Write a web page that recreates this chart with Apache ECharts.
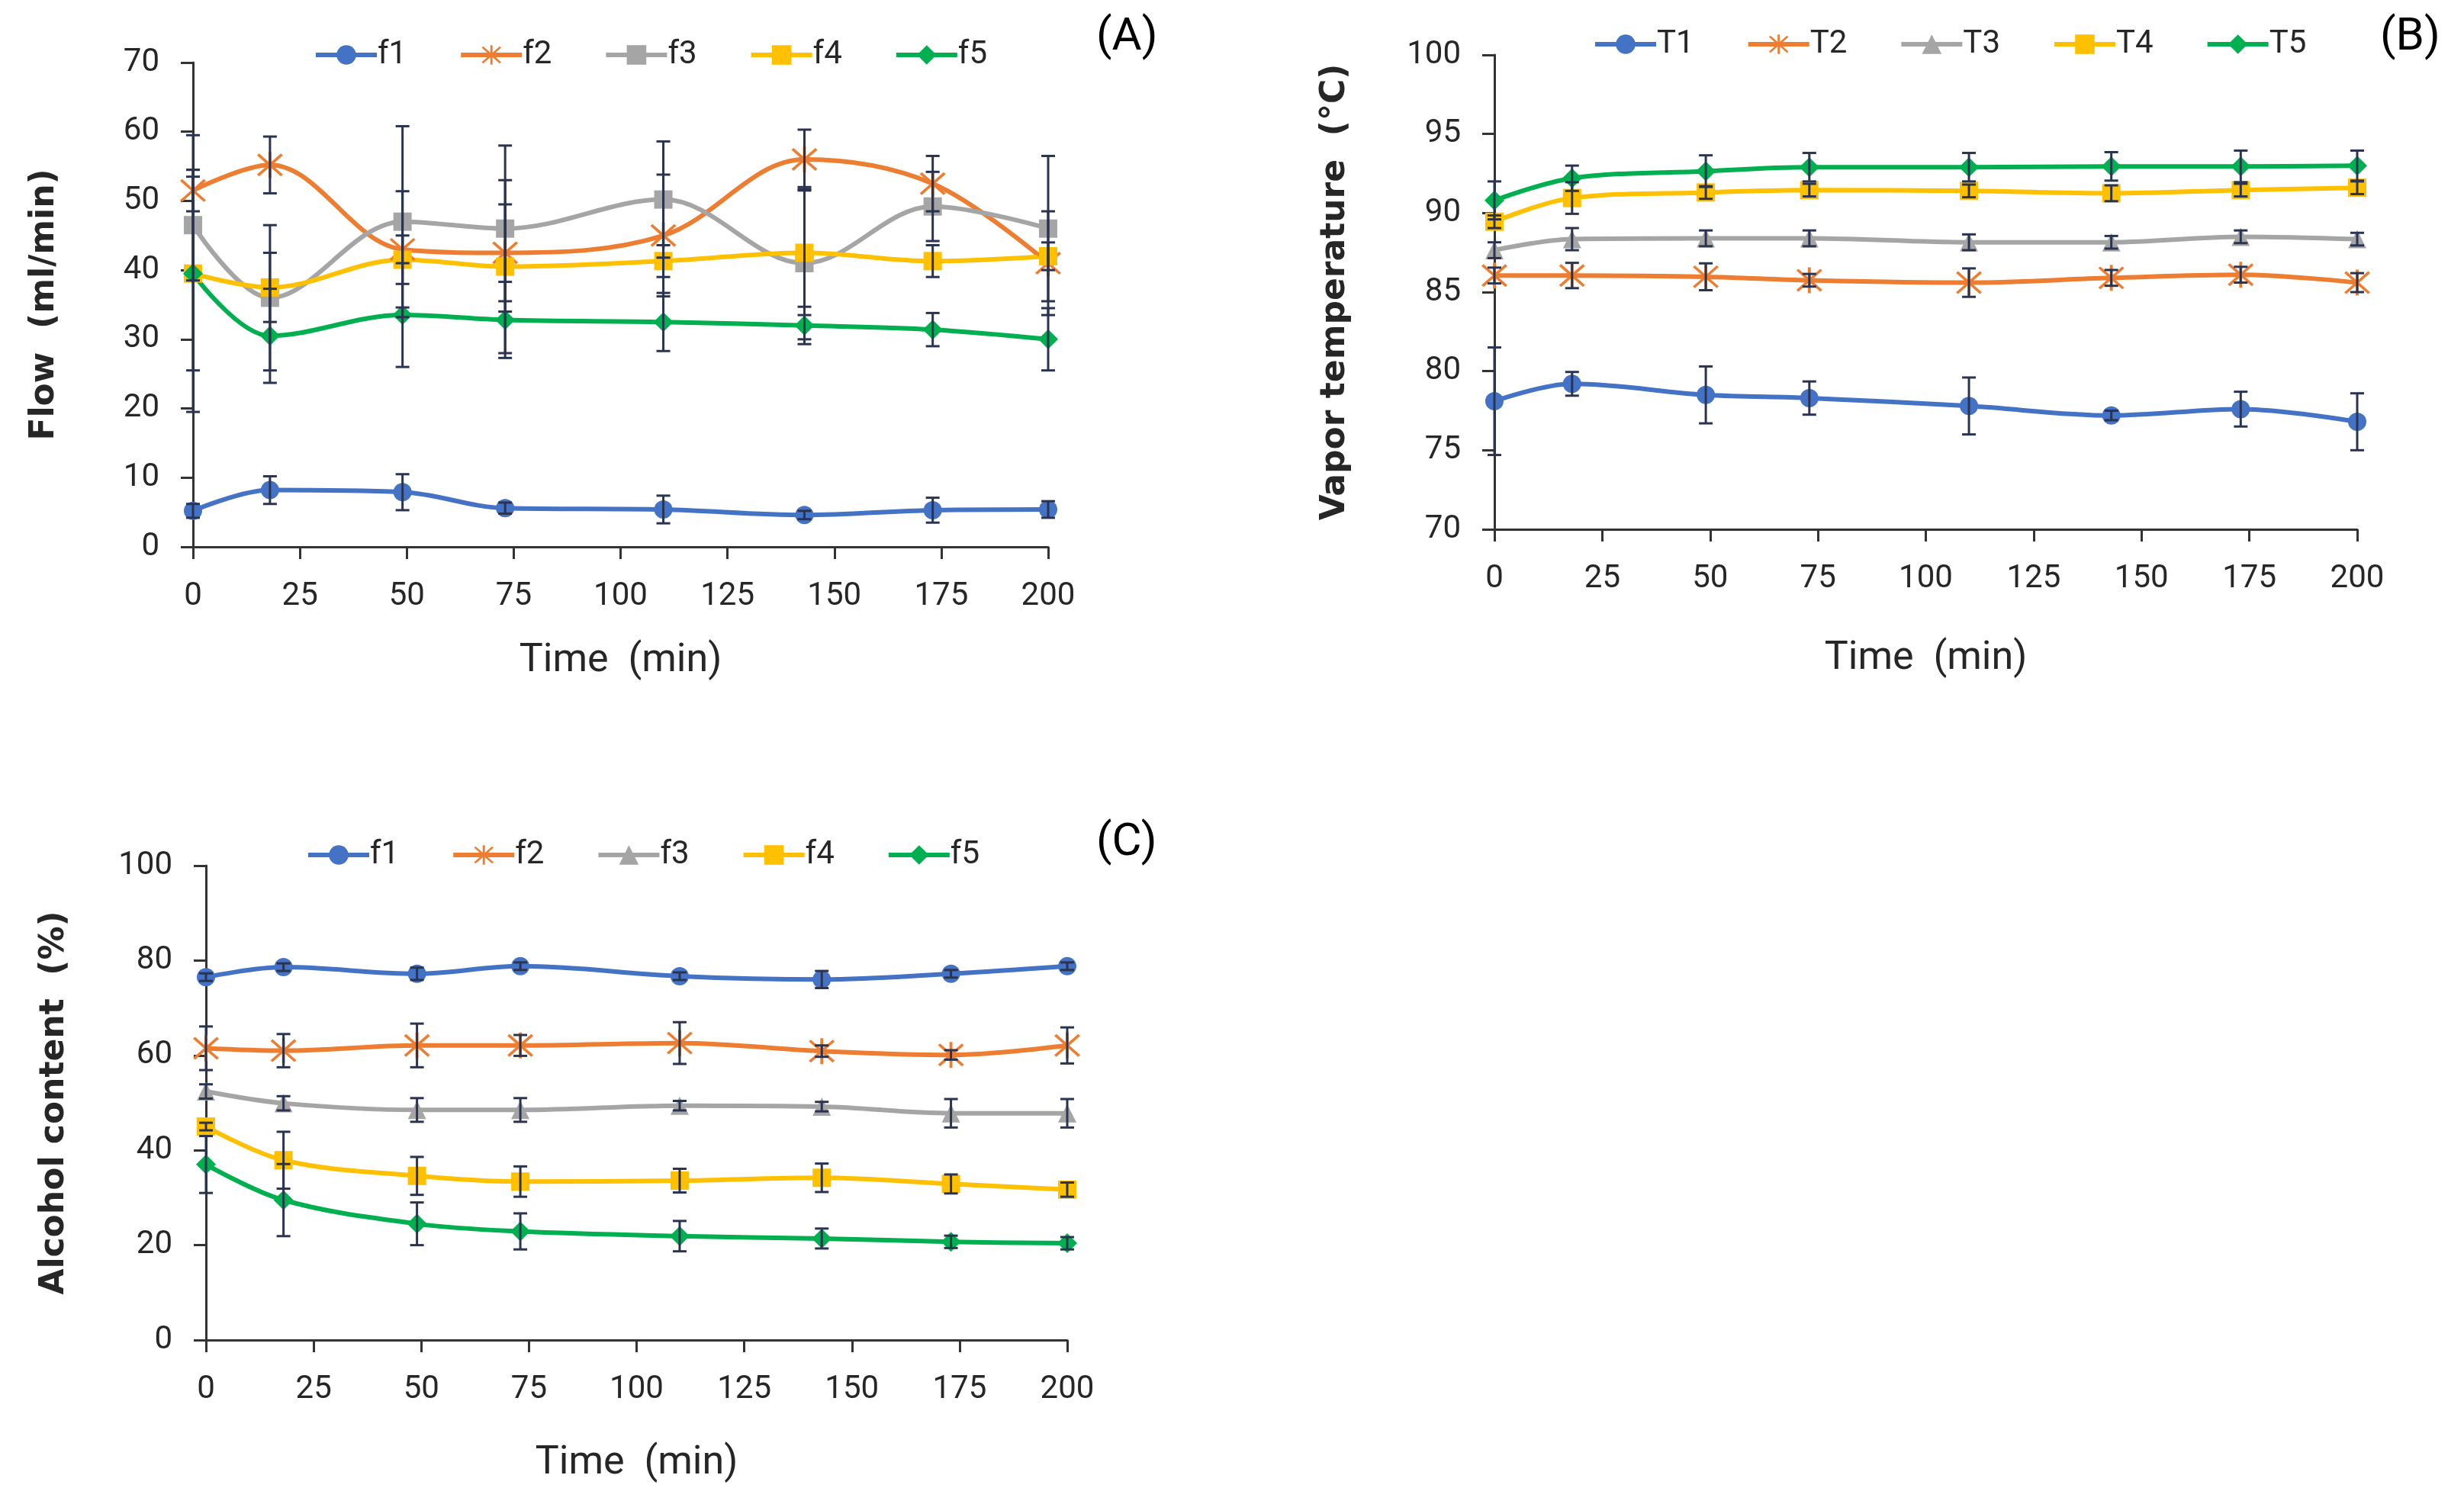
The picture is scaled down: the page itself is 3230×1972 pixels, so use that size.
<!DOCTYPE html>
<html><head><meta charset="utf-8">
<script src="https://cdn.jsdelivr.net/npm/echarts@6/dist/echarts.min.js"></script>
<style>html,body{margin:0;padding:0;background:#fff}#c{width:3230px;height:1972px}</style>
</head><body><div id="c"></div>
<script>
// ---- data ----
const timeMin = [0, 18, 49, 73, 110, 143, 173, 200];
const xTicks = [0, 25, 50, 75, 100, 125, 150, 175, 200];

// Panel A: Flow (ml/min)
const flowNames = ['f1', 'f2', 'f3', 'f4', 'f5'];
const flowF1 = [5.2, 8.2, 7.9, 5.6, 5.4, 4.6, 5.3, 5.4];
const flowF1Err = [1.0, 2.0, 2.6, 0.8, 2.0, 0.6, 1.8, 1.2];
const flowF2 = [51.5, 55.2, 43.0, 42.5, 45.0, 56.0, 52.5, 41.0];
const flowF2Err = [3.0, 4.1, 8.4, 7.0, 8.8, 4.3, 4.0, 7.5];
const flowF3 = [46.5, 36.0, 47.0, 46.0, 50.2, 41.0, 49.2, 46.0];
const flowF3Err = [8.0, 10.5, 13.8, 12.0, 8.4, 11.0, 5.0, 10.5];
const flowF4 = [39.5, 37.5, 41.5, 40.5, 41.3, 42.5, 41.3, 42.0];
const flowF4Err = [14.0, 5.0, 3.5, 12.5, 2.3, 9.0, 2.3, 2.0];
const flowF5 = [39.5, 30.5, 33.5, 32.8, 32.5, 32.0, 31.4, 30.0];
const flowF5Err = [20.0, 6.8, 7.5, 5.5, 4.2, 2.7, 2.4, 4.5];

// Panel B: Vapor temperature (°C)
const tempNames = ['T1', 'T2', 'T3', 'T4', 'T5'];
const tempT1 = [78.1, 79.2, 78.5, 78.3, 77.8, 77.2, 77.6, 76.8];
const tempT1Err = [3.4, 0.75, 1.8, 1.05, 1.8, 0.3, 1.1, 1.8];
const tempT2 = [86.05, 86.05, 85.97, 85.75, 85.6, 85.9, 86.1, 85.6];
const tempT2Err = [0.5, 0.8, 0.85, 0.4, 0.9, 0.5, 0.5, 0.6];
const tempT3 = [87.65, 88.35, 88.4, 88.4, 88.15, 88.15, 88.5, 88.35];
const tempT3Err = [0.5, 0.7, 0.5, 0.5, 0.5, 0.4, 0.4, 0.4];
const tempT4 = [89.45, 90.95, 91.3, 91.45, 91.4, 91.25, 91.45, 91.6];
const tempT4Err = [0.4, 1.0, 0.4, 0.4, 0.4, 0.5, 0.4, 0.4];
const tempT5 = [90.8, 92.2, 92.65, 92.9, 92.9, 92.95, 92.95, 93.0];
const tempT5Err = [1.2, 0.8, 1.0, 0.9, 0.9, 0.9, 1.0, 0.95];

// Panel C: Alcohol content (%)
const alcNames = ['f1', 'f2', 'f3', 'f4', 'f5'];
const alcF1 = [76.5, 78.6, 77.2, 78.8, 76.7, 76.0, 77.2, 78.8];
const alcF1Err = [0.8, 0.8, 1.3, 0.8, 0.8, 1.8, 0.8, 0.8];
const alcF2 = [61.5, 61.0, 62.1, 62.1, 62.6, 60.9, 60.1, 62.1];
const alcF2Err = [4.6, 3.5, 4.6, 2.2, 4.4, 1.2, 1.0, 3.8];
const alcF3 = [52.4, 49.9, 48.5, 48.5, 49.4, 49.2, 47.8, 47.8];
const alcF3Err = [1.5, 1.5, 2.5, 2.5, 1.0, 1.0, 3.0, 3.0];
const alcF4 = [45.0, 37.9, 34.6, 33.4, 33.6, 34.2, 32.9, 31.7];
const alcF4Err = [0.8, 6.0, 4.0, 3.2, 2.5, 3.0, 2.0, 1.5];
const alcF5 = [37.0, 29.5, 24.5, 22.9, 21.9, 21.4, 20.7, 20.4];
const alcF5Err = [6.0, 7.6, 4.5, 3.8, 3.2, 2.1, 1.3, 1.3];

// ---- style ----
const COLORS = ['#4472C4', '#ED7D31', '#A5A5A5', '#FFC000', '#00B050'];
const ERR_COLOR = '#2a3450';
const TXT = '#262626';
const FONT = "'Liberation Sans Narrow', 'Roboto', sans-serif";
const STAR = 'path://M9,0L11,0L11,20L9,20Z M1.2,2.6L2.6,1.2L18.8,17.4L17.4,18.8Z M17.4,1.2L18.8,2.6L2.6,18.8L1.2,17.4Z';
const symA = ['circle', STAR, 'rect', 'rect', 'diamond'];
const symBC = ['circle', STAR, 'triangle', 'rect', 'diamond'];
const symSize = [24, 34, 24, 24, 26];

const chart = echarts.init(document.getElementById('c'), null, { renderer: 'canvas' });

function errRender(params, api) {
  const x = api.value(0), y = api.value(1), e = api.value(2);
  const top = api.coord([x, y + e]);
  const bot = api.coord([x, y - e]);
  const cw = 9;
  const st = { stroke: ERR_COLOR, lineWidth: 3 };
  return {
    type: 'group',
    children: [
      { type: 'line', shape: { x1: top[0], y1: top[1], x2: bot[0], y2: bot[1] }, style: st },
      { type: 'line', shape: { x1: top[0] - cw, y1: top[1], x2: top[0] + cw, y2: top[1] }, style: st },
      { type: 'line', shape: { x1: bot[0] - cw, y1: bot[1], x2: bot[0] + cw, y2: bot[1] }, style: st }
    ]
  };
}

const grids = [
  { left: 253, top: 82, width: 1121, height: 635 },
  { left: 1959, top: 72, width: 1131, height: 622 },
  { left: 270, top: 1135, width: 1129, height: 622 }
];

const axisLabelStyle = { color: TXT, fontSize: 42, fontFamily: FONT };
const xAxes = [], yAxes = [];
const yCfg = [
  { min: 0, max: 70, interval: 10, name: 'Flow  (ml/min)', gap: 172 },
  { min: 70, max: 100, interval: 5, name: 'Vapor temperature  (°C)', gap: 186 },
  { min: 0, max: 100, interval: 20, name: 'Alcohol content  (%)', gap: 176 }
];
const xGap = [124, 144, 136];
for (let i = 0; i < 3; i++) {
  xAxes.push({
    gridIndex: i, type: 'value', min: 0, max: 200, interval: 25,
    name: 'Time  (min)', nameLocation: 'middle', nameGap: xGap[i],
    nameTextStyle: { color: TXT, fontSize: 52, fontFamily: FONT },
    axisLine: { show: true, onZero: false, lineStyle: { color: '#333', width: 3 } },
    axisTick: { show: true, inside: false, length: 16, lineStyle: { color: '#333', width: 3 } },
    axisLabel: Object.assign({ margin: 44 }, axisLabelStyle),
    splitLine: { show: false }
  });
  yAxes.push({
    gridIndex: i, type: 'value', min: yCfg[i].min, max: yCfg[i].max, interval: yCfg[i].interval,
    name: yCfg[i].name, nameLocation: 'middle', nameGap: yCfg[i].gap, nameRotate: 90,
    nameTextStyle: { color: TXT, fontSize: 44, fontWeight: 'bold', fontFamily: "'DejaVu Sans', sans-serif" },
    axisLine: { show: true, onZero: false, lineStyle: { color: '#333', width: 3 } },
    axisTick: { show: true, inside: false, length: 16, lineStyle: { color: '#333', width: 3 } },
    axisLabel: Object.assign({ margin: 44 }, axisLabelStyle),
    splitLine: { show: false }
  });
}

const panels = [
  { names: flowNames, vals: [flowF1, flowF2, flowF3, flowF4, flowF5], errs: [flowF1Err, flowF2Err, flowF3Err, flowF4Err, flowF5Err], syms: symA },
  { names: tempNames, vals: [tempT1, tempT2, tempT3, tempT4, tempT5], errs: [tempT1Err, tempT2Err, tempT3Err, tempT4Err, tempT5Err], syms: symBC },
  { names: alcNames, vals: [alcF1, alcF2, alcF3, alcF4, alcF5], errs: [alcF1Err, alcF2Err, alcF3Err, alcF4Err, alcF5Err], syms: symBC }
];

const series = [];
const legends = [];
const legendPos = [
  { left: 406, top: 46 },
  { left: 2083, top: 32 },
  { left: 396, top: 1095 }
];
panels.forEach((p, pi) => {
  const legendData = [];
  p.names.forEach((nm, si) => {
    const sname = 'P' + pi + '_' + nm;
    legendData.push(sname);
    series.push({
      name: sname, type: 'line', xAxisIndex: pi, yAxisIndex: pi,
      data: timeMin.map((t, k) => [t, p.vals[si][k]]),
      smooth: 0.35,
      symbol: p.syms[si], symbolSize: symSize[si],
      showAllSymbol: true,
      lineStyle: { color: COLORS[si], width: 6 },
      itemStyle: { color: COLORS[si], borderWidth: 0 },
      z: 2, animation: false
    });
    series.push({
      name: sname + '_err', type: 'custom', xAxisIndex: pi, yAxisIndex: pi,
      renderItem: errRender,
      data: timeMin.map((t, k) => [t, p.vals[si][k], p.errs[si][k]]),
      z: 3, silent: true, animation: false
    });
  });
  legends.push(Object.assign({
    data: legendData, orient: 'horizontal', itemWidth: 80, itemHeight: 32, itemGap: 68,
    formatter: (n) => n.split('_')[1],
    lineStyle: { width: 6 },
    textStyle: { color: TXT, fontSize: 42, fontFamily: FONT, padding: [0, 0, 0, -4] },
    selectedMode: false
  }, legendPos[pi]));
});

const labels = [
  { text: '(A)', x: 1479, y: 56 },
  { text: '(B)', x: 3162, y: 56 },
  { text: '(C)', x: 1479, y: 1112 }
];

chart.setOption({
  animation: false,
  backgroundColor: '#fff',
  grid: grids,
  xAxis: xAxes,
  yAxis: yAxes,
  legend: legends,
  series: series,
  graphic: labels.map(l => ({
    type: 'text', left: l.x - 42, top: l.y - 36,
    style: { text: l.text, fill: '#000', font: "60px 'Liberation Sans Narrow', 'Roboto', sans-serif" }
  }))
});
</script></body></html>
